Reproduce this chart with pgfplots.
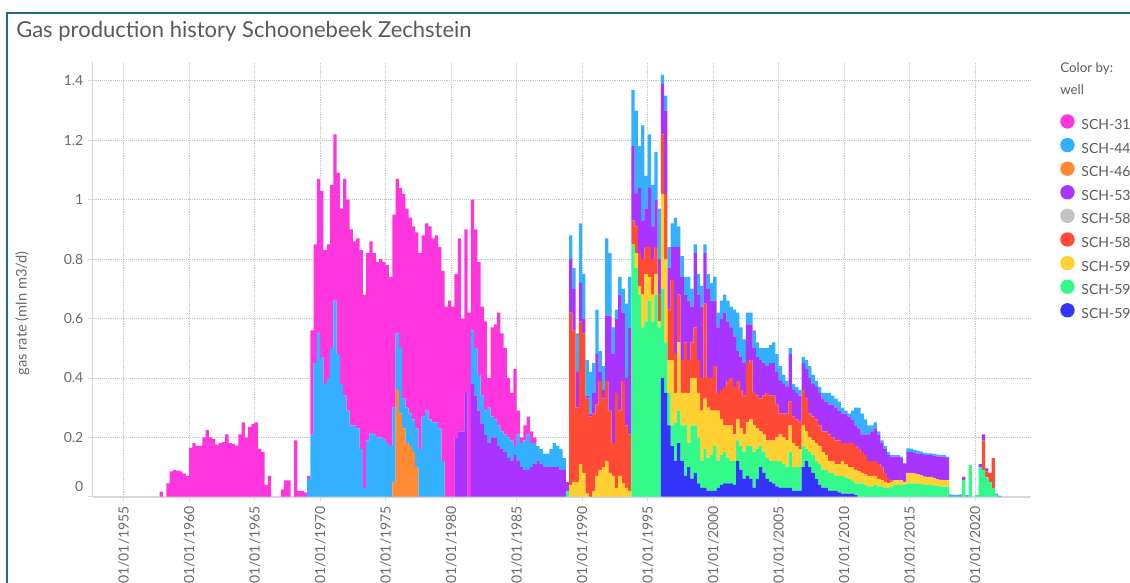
\documentclass[border=0pt]{standalone}
\usepackage{fontspec}
\setmainfont{Lato}
\usepackage{pgfplots}
\usepackage{pgfplotstable}
\pgfplotsset{compat=1.18}
\definecolor{c313}{HTML}{FF35DE}
\definecolor{c447}{HTML}{33B0FF}
\definecolor{c463}{HTML}{FF8A33}
\definecolor{c537}{HTML}{A933FF}
\definecolor{c580}{HTML}{C2C2C2}
\definecolor{c589}{HTML}{FF4B36}
\definecolor{c591}{HTML}{FFD133}
\definecolor{c592}{HTML}{33FA8A}
\definecolor{c597}{HTML}{3434FA}
\definecolor{axisgray}{HTML}{D6D6DE}
\definecolor{gridgray}{HTML}{C4C4C4}
\definecolor{tickgray}{HTML}{6A6A6A}
\definecolor{titlegray}{HTML}{5A5A5A}
\definecolor{framecol}{HTML}{26698C}
\pgfplotsset{dotleg/.style={legend image code/.code={\fill[#1] (0.18cm,0.3em) circle (5.4pt); \path (13.6pt,0.3em);}}}

% t = start of quarter; columns: SCH-597 592 591 589 580 537 463 447 313
\pgfplotstableread{
t a597 a592 a591 a589 a580 a537 a463 a447 a313
1957.75 0 0 0 0 0 0 0 0 0.017
1958.25 0 0 0 0 0 0 0 0 0.045
1958.50 0 0 0 0 0 0 0 0 0.085
1958.75 0 0 0 0 0 0 0 0 0.090
1959.00 0 0 0 0 0 0 0 0 0.088
1959.25 0 0 0 0 0 0 0 0 0.085
1959.50 0 0 0 0 0 0 0 0 0.078
1959.75 0 0 0 0 0 0 0 0 0.070
1960.00 0 0 0 0 0 0 0 0 0.165
1960.25 0 0 0 0 0 0 0 0 0.180
1960.50 0 0 0 0 0 0 0 0 0.170
1960.75 0 0 0 0 0 0 0 0 0.172
1961.00 0 0 0 0 0 0 0 0 0.200
1961.25 0 0 0 0 0 0 0 0 0.225
1961.50 0 0 0 0 0 0 0 0 0.200
1961.75 0 0 0 0 0 0 0 0 0.195
1962.00 0 0 0 0 0 0 0 0 0.175
1962.25 0 0 0 0 0 0 0 0 0.180
1962.50 0 0 0 0 0 0 0 0 0.185
1962.75 0 0 0 0 0 0 0 0 0.210
1963.00 0 0 0 0 0 0 0 0 0.180
1963.25 0 0 0 0 0 0 0 0 0.178
1963.50 0 0 0 0 0 0 0 0 0.172
1963.75 0 0 0 0 0 0 0 0 0.210
1964.00 0 0 0 0 0 0 0 0 0.250
1964.25 0 0 0 0 0 0 0 0 0.200
1964.50 0 0 0 0 0 0 0 0 0.235
1964.75 0 0 0 0 0 0 0 0 0.245
1965.00 0 0 0 0 0 0 0 0 0.250
1965.25 0 0 0 0 0 0 0 0 0.160
1965.50 0 0 0 0 0 0 0 0 0.150
1965.75 0 0 0 0 0 0 0 0 0.040
1966.00 0 0 0 0 0 0 0 0 0.070
1967.00 0 0 0 0 0 0 0 0 0.025
1967.25 0 0 0 0 0 0 0 0 0.055
1967.50 0 0 0 0 0 0 0 0 0.055
1968.00 0 0 0 0 0 0 0 0 0.190
1968.25 0 0 0 0 0 0 0 0 0.020
1968.50 0 0 0 0 0 0 0 0 0.020
1968.75 0 0 0 0 0 0 0 0 0.015
1969.00 0 0 0 0 0 0 0 0.06 0.01
1969.25 0 0 0 0 0 0 0 0.21 0.35
1969.50 0 0 0 0 0 0 0 0.45 0.40
1969.75 0 0 0 0 0 0 0 0.55 0.52
1970.00 0 0 0 0 0 0 0 0.47 0.56
1970.25 0 0 0 0 0 0 0 0.38 0.45
1970.50 0 0 0 0 0 0 0 0.40 0.45
1970.75 0 0 0 0 0 0 0 0.50 0.55
1971.00 0 0 0 0 0 0 0 0.66 0.56
1971.25 0 0 0 0 0 0 0 0.48 0.61
1971.50 0 0 0 0 0 0 0 0.38 0.59
1971.75 0 0 0 0 0 0 0 0.34 0.73
1972.00 0 0 0 0 0 0 0 0.29 0.71
1972.25 0 0 0 0 0 0 0 0.24 0.66
1972.50 0 0 0 0 0 0 0 0.24 0.62
1972.75 0 0 0 0 0 0 0 0.23 0.64
1973.00 0 0 0 0 0 0 0 0.16 0.67
1973.25 0 0 0 0 0 0 0 0.03 0.65
1973.50 0 0 0 0 0 0 0 0.19 0.63
1973.75 0 0 0 0 0 0 0 0.215 0.645
1974.00 0 0 0 0 0 0 0 0.21 0.61
1974.25 0 0 0 0 0 0 0 0.20 0.59
1974.50 0 0 0 0 0 0 0 0.20 0.60
1974.75 0 0 0 0 0 0 0 0.195 0.595
1975.00 0 0 0 0 0 0 0 0.18 0.60
1975.25 0 0 0 0 0 0 0 0.17 0.57
1975.50 0 0 0 0 0 0 0.05 0.25 0.65
1975.75 0 0 0 0 0 0 0.36 0.19 0.52
1976.00 0 0 0 0 0 0 0.28 0.22 0.54
1976.25 0 0 0 0 0 0 0.23 0.10 0.69
1976.50 0 0 0 0 0 0 0.18 0.12 0.67
1976.75 0 0 0 0 0 0 0.17 0.11 0.66
1977.00 0 0 0 0 0 0 0.15 0.11 0.65
1977.25 0 0 0 0 0 0 0.10 0.13 0.66
1977.50 0 0 0 0 0 0 0 0.16 0.66
1977.75 0 0 0 0 0 0 0 0.27 0.61
1978.00 0 0 0 0 0 0 0 0.29 0.63
1978.25 0 0 0 0 0 0 0 0.26 0.65
1978.50 0 0 0 0 0 0 0 0.25 0.62
1978.75 0 0 0 0 0 0 0 0.25 0.63
1979.00 0 0 0 0 0 0 0 0.23 0.61
1979.25 0 0 0 0 0 0 0 0.12 0.64
1979.50 0 0 0 0 0 0 0 0 0.64
1979.75 0 0 0 0 0 0 0 0 0.66
1980.00 0 0 0 0 0 0 0 0 0.64
1980.25 0 0 0 0 0 0.20 0 0 0.55
1980.50 0 0 0 0 0 0.22 0 0 0.65
1980.75 0 0 0 0 0 0.22 0 0 0.38
1981.00 0 0 0 0 0 0.35 0 0 0.55
1981.25 0 0 0 0 0 0 0 0 0.62
1981.50 0 0 0 0 0 0.38 0 0.18 0.44
1981.75 0 0 0 0 0 0.34 0 0.16 0.40
1982.00 0 0 0 0 0 0.29 0 0.12 0.38
1982.25 0 0 0 0 0 0.245 0 0.095 0.30
1982.50 0 0 0 0 0 0.21 0 0.08 0.30
1982.75 0 0 0 0 0 0.18 0 0.12 0.10
1983.00 0 0 0 0 0 0.20 0 0.07 0.30
1983.25 0 0 0 0 0 0.20 0 0.06 0.32
1983.50 0 0 0 0 0 0.17 0 0.07 0.38
1983.75 0 0 0 0 0 0.16 0 0.06 0.33
1984.00 0 0 0 0 0 0.15 0 0.06 0.29
1984.25 0 0 0 0 0 0.13 0 0.07 0.20
1984.50 0 0 0 0 0 0.12 0 0.07 0.16
1984.75 0 0 0 0 0 0.14 0 0.03 0.26
1985.00 0 0 0 0 0 0.12 0 0.09 0.08
1985.25 0 0 0 0 0 0.10 0 0.08 0.02
1985.50 0 0 0 0 0 0.09 0 0.10 0.05
1985.75 0 0 0 0 0 0.09 0 0.12 0.06
1986.00 0 0 0 0 0 0.10 0 0.08 0.04
1986.25 0 0 0 0 0 0.11 0 0.07 0.02
1986.50 0 0 0 0 0 0.12 0 0.05 0
1986.75 0 0 0 0 0 0.11 0 0.05 0
1987.00 0 0 0 0 0 0.10 0 0.045 0
1987.25 0 0 0 0 0 0.10 0 0.045 0
1987.50 0 0 0 0 0 0.10 0 0.06 0
1987.75 0 0 0 0 0 0.10 0 0.08 0
1988.00 0 0 0 0 0 0.10 0 0.07 0
1988.25 0 0 0 0 0 0.09 0 0.07 0
1988.50 0 0 0 0 0 0.09 0 0.04 0
1988.75 0 0.02 0 0 0 0.03 0 0 0
1989.00 0 0 0.04 0.58 0 0.18 0 0.08 0
1989.25 0 0 0.05 0.51 0 0.14 0 0.07 0
1989.50 0 0 0.05 0.25 0 0.12 0 0.13 0
1989.75 0 0 0.11 0.48 0 0.13 0 0.20 0
1990.00 0 0 0.08 0.47 0 0.05 0 0.15 0
1990.25 0 0 0.01 0.32 0 0.01 0 0.12 0
1990.50 0 0 0 0.27 0 0.01 0 0.14 0
1990.75 0 0 0.02 0.26 0 0.07 0 0.10 0
1991.00 0 0 0.07 0.24 0 0.17 0 0.15 0
1991.25 0 0 0.09 0.30 0 0.03 0 0.07 0
1991.50 0 0 0.10 0.23 0 0.03 0 0.08 0
1991.75 0 0 0.12 0.27 0 0.22 0 0.26 0
1992.00 0 0 0.08 0.21 0 0.32 0 0.21 0
1992.25 0 0 0.07 0.11 0 0.30 0 0.09 0
1992.50 0 0 0.03 0.32 0 0.25 0 0.03 0
1992.75 0 0 0.07 0.22 0 0.39 0 0.06 0
1993.00 0 0 0.045 0.345 0 0.23 0 0.08 0
1993.25 0 0 0.03 0.21 0 0.16 0 0.25 0
1993.50 0 0 0.02 0.19 0 0.36 0 0.17 0
1993.75 0 0.85 0 0.08 0 0.25 0 0.19 0
1994.00 0 0.77 0.05 0.09 0 0.11 0 0.28 0
1994.25 0 0.68 0.03 0.11 0 0.22 0 0.14 0
1994.50 0 0.57 0.11 0.12 0 0.13 0 0.32 0
1994.75 0 0.59 0.16 0.09 0 0.13 0 0.11 0
1995.00 0 0.66 0.08 0.10 0 0.20 0 0.18 0
1995.25 0 0.59 0.09 0.12 0 0.11 0 0.14 0
1995.50 0 0.68 0.07 0.09 0 0.16 0 0.16 0
1995.75 0 0.57 0.02 0.09 0 0.12 0 0.17 0
1996.00 0.40 0.30 0.32 0.20 0 0.17 0 0.03 0
1996.25 0.35 0.17 0.28 0.22 0 0.28 0 0.05 0
1996.50 0.24 0.11 0.11 0.17 0 0.14 0 0.07 0
1996.75 0.17 0.07 0.22 0.27 0 0.11 0 0.08 0
1997.00 0.12 0.13 0.10 0.13 0 0.36 0 0.10 0
1997.25 0.18 0.11 0.23 0.16 0 0.16 0 0.07 0
1997.50 0.12 0.12 0.11 0.11 0 0.28 0 0.07 0
1997.75 0.07 0.17 0.11 0.17 0 0.16 0 0.06 0
1998.00 0.10 0.08 0.17 0.11 0 0.20 0 0.08 0
1998.25 0.06 0.18 0.16 0.12 0 0.12 0 0.06 0
1998.50 0.08 0.16 0.16 0.17 0 0.25 0 0.03 0
1998.75 0.045 0.155 0.15 0.11 0 0.22 0 0.07 0
1999.00 0.03 0.09 0.17 0.11 0 0.24 0 0.07 0
1999.25 0.03 0.13 0.17 0.32 0 0.17 0 0.03 0
1999.50 0.02 0.11 0.17 0.10 0 0.30 0 0.05 0
1999.75 0.02 0.12 0.15 0.11 0 0.26 0 0.06 0
2000.00 0.02 0.15 0.12 0.15 0 0.22 0 0.08 0
2000.25 0.03 0.09 0.17 0.06 0 0.22 0 0.05 0
2000.50 0.04 0.10 0.12 0.10 0 0.24 0 0.06 0
2000.75 0.045 0.105 0.09 0.13 0 0.25 0 0.06 0
2001.00 0.045 0.085 0.11 0.15 0 0.20 0 0.07 0
2001.25 0.045 0.075 0.12 0.16 0 0.17 0 0.07 0
2001.50 0.04 0.08 0.09 0.16 0 0.17 0 0.09 0
2001.75 0.12 0.07 0.07 0.13 0 0.10 0 0.13 0
2002.00 0.09 0.08 0.06 0.13 0 0.11 0 0.10 0
2002.25 0.06 0.09 0.06 0.13 0 0.11 0 0.08 0
2002.50 0.07 0.10 0.08 0.20 0 0.13 0 0.04 0
2002.75 0.06 0.11 0.09 0.20 0 0.12 0 0.04 0
2003.00 0.03 0.12 0.09 0.11 0 0.15 0 0.06 0
2003.25 0.06 0.10 0.07 0.11 0 0.13 0 0.05 0
2003.50 0.10 0.07 0.05 0.11 0 0.13 0 0.04 0
2003.75 0.08 0.07 0.06 0.13 0 0.11 0 0.05 0
2004.00 0.06 0.07 0.06 0.16 0 0.09 0 0.06 0
2004.25 0.05 0.07 0.07 0.15 0 0.11 0 0.06 0
2004.50 0.045 0.075 0.07 0.15 0 0.11 0 0.07 0
2004.75 0.035 0.085 0.08 0.11 0 0.11 0 0.06 0
2005.00 0.03 0.09 0.09 0.07 0 0.11 0 0.05 0
2005.25 0.03 0.08 0.09 0.08 0 0.10 0 0.03 0
2005.50 0.03 0.07 0.09 0.09 0 0.09 0 0.02 0
2005.75 0.03 0.12 0.09 0.08 0 0.16 0 0.02 0
2006.00 0.02 0.08 0.08 0.09 0 0.09 0 0.02 0
2006.25 0.02 0.08 0.07 0.09 0 0.09 0 0.02 0
2006.50 0.02 0.08 0.06 0.09 0 0.09 0 0.02 0
2006.75 0.10 0.07 0.07 0.12 0 0.09 0 0.02 0
2007.00 0.12 0.04 0.06 0.11 0 0.10 0 0.03 0
2007.25 0.10 0.05 0.05 0.08 0 0.12 0 0.04 0
2007.50 0.08 0.06 0.05 0.08 0 0.11 0 0.03 0
2007.75 0.06 0.06 0.06 0.08 0 0.11 0 0.02 0
2008.00 0.04 0.07 0.06 0.07 0 0.11 0 0.02 0
2008.25 0.03 0.06 0.06 0.07 0 0.11 0 0.02 0
2008.50 0.03 0.06 0.05 0.08 0 0.10 0 0.03 0
2008.75 0.02 0.06 0.04 0.09 0 0.10 0 0.04 0
2009.00 0.02 0.06 0.04 0.08 0 0.11 0 0.03 0
2009.25 0.02 0.05 0.04 0.08 0 0.11 0 0.03 0
2009.50 0.015 0.055 0.04 0.08 0 0.10 0 0.03 0
2009.75 0.01 0.06 0.05 0.06 0 0.10 0 0.02 0
2010.00 0.01 0.055 0.045 0.07 0 0.10 0 0.01 0
2010.25 0.01 0.05 0.04 0.08 0 0.09 0 0.01 0
2010.50 0.01 0.045 0.045 0.08 0 0.08 0 0.03 0
2010.75 0.005 0.04 0.045 0.08 0 0.07 0 0.06 0
2011.00 0 0.045 0.04 0.075 0 0.07 0 0.07 0
2011.25 0 0.045 0.035 0.07 0 0.06 0 0.07 0
2011.50 0 0.04 0.035 0.065 0 0.07 0 0.05 0
2011.75 0 0.035 0.035 0.05 0 0.09 0 0.03 0
2012.00 0 0.035 0.035 0.05 0 0.10 0 0.02 0
2012.25 0 0.04 0.03 0.05 0 0.11 0 0.02 0
2012.50 0 0.035 0.025 0.05 0 0.10 0 0.01 0
2012.75 0 0.035 0.021 0.044 0 0.08 0 0.01 0
2013.00 0 0.03 0.02 0.03 0 0.08 0 0.01 0
2013.25 0 0.03 0.015 0.015 0 0.08 0 0.01 0
2013.50 0 0.035 0.015 0.005 0 0.08 0 0.005 0
2013.75 0 0.04 0.015 0 0 0.08 0 0.005 0
2014.00 0 0.04 0.016 0 0 0.08 0 0.004 0
2014.25 0 0.04 0.015 0 0 0.075 0 0.005 0
2014.50 0 0.04 0.01 0 0 0.06 0 0.003 0
2014.75 0 0.045 0.035 0 0 0.07 0 0.013 0
2015.00 0 0.045 0.035 0 0 0.07 0 0.012 0
2015.25 0 0.045 0.033 0 0 0.07 0 0.010 0
2015.50 0 0.043 0.032 0 0 0.07 0 0.010 0
2015.75 0 0.042 0.030 0 0 0.072 0 0.008 0
2016.00 0 0.040 0.028 0 0 0.073 0 0.007 0
2016.25 0 0.040 0.027 0 0 0.073 0 0.006 0
2016.50 0 0.040 0.027 0 0 0.073 0 0.006 0
2016.75 0 0.038 0.025 0 0 0.075 0 0.006 0
2017.00 0 0.036 0.022 0 0 0.078 0 0.006 0
2017.25 0 0.035 0.022 0 0 0.078 0 0.005 0
2017.50 0 0.034 0.022 0 0 0.079 0 0.005 0
2017.75 0 0.034 0.022 0 0 0.074 0 0.005 0
2018.00 0 0 0 0 0 0 0 0.008 0
2018.25 0 0 0 0 0 0 0 0.006 0
2018.50 0 0 0 0 0 0 0 0.006 0
2018.75 0 0 0 0 0 0 0 0.008 0
2019.00 0 0.056 0 0 0 0.011 0 0 0
2019.25 0 0 0 0 0 0 0 0.005 0
2019.50 0 0.107 0 0 0 0 0 0 0
2020.00 0 0.005 0 0 0 0 0 0 0
2020.25 0 0.10 0 0 0 0.01 0 0 0
2020.50 0 0.09 0 0.10 0 0.02 0 0 0
2020.75 0 0.065 0 0.02 0 0.01 0 0 0
2021.00 0 0.05 0 0.03 0 0 0 0 0
2021.25 0 0.03 0 0.10 0 0 0 0 0
2021.50 0 0.005 0 0 0 0 0 0.005 0
2021.75 0 0 0 0 0 0 0 0.004 0
}\wells

\begin{document}
\begin{tikzpicture}
\useasboundingbox (0pt,0pt) rectangle (847.5pt,-436.5pt);
\draw[framecol, line width=1.5pt] (5.25pt,-445pt) -- (5.25pt,-9.75pt) -- (860pt,-9.75pt);
\node[anchor=base west, font=\fontsize{16.5}{19}\selectfont, text=titlegray, inner sep=0pt] at (12pt,-28pt) {Gas production history Schoonebeek Zechstein};
\node[rotate=90, font=\fontsize{11}{13}\selectfont, text=tickgray] at (16.7pt,-235pt) {gas rate (mln m3/d)};
\node[anchor=west, inner sep=0pt, font=\fontsize{10}{12}\selectfont, text=titlegray] at (795pt,-51.75pt) {Color by:};
\node[anchor=west, inner sep=0pt, font=\fontsize{10}{12}\selectfont, text=titlegray] at (795pt,-67.5pt) {well};
\begin{axis}[
  at={(69.525pt,-372.525pt)}, anchor=south west,
  scale only axis, width=702.975pt, height=326.025pt,
  xmin=1952.634, xmax=2024.18, ymin=0, ymax=1.4636,
  ybar stacked, bar width=0.25,
  axis lines*=left,
  x axis line style={draw=axisgray, line width=1.5pt},
  y axis line style={draw=axisgray, line width=0.75pt},
  xtick={1955,1960,1965,1970,1975,1980,1985,1990,1995,2000,2005,2010,2015,2020},
  xticklabels={01/01/1955,01/01/1960,01/01/1965,01/01/1970,01/01/1975,01/01/1980,01/01/1985,01/01/1990,01/01/1995,01/01/2000,01/01/2005,01/01/2010,01/01/2015,01/01/2020},
  ytick={0,0.2,0.4,0.6,0.8,1,1.2,1.4},
  yticklabels={\raisebox{15pt}{0},0.2,0.4,0.6,0.8,1,1.2,1.4},
  grid=major, grid style={densely dotted, draw=gridgray, line width=0.6pt},
  tick style={draw=axisgray, line width=0.6pt}, major tick length=3.5pt, tick align=outside,
  xticklabel style={rotate=90, anchor=east, font=\fontsize{10.5}{12}\selectfont, text=tickgray},
  yticklabel style={font=\fontsize{10.5}{12}\selectfont, text=tickgray},
  reverse legend,
  legend cell align=left,
  legend style={at={(axis description cs:1.032,0.8804)}, anchor=north west, draw=none, fill=none,
    font=\fontsize{10.5}{12}\selectfont, text=titlegray, row sep=2.75pt, inner sep=0pt},
]
\addplot[fill=c597, draw=none, dotleg=c597] table[x expr=\thisrow{t}+0.125, y=a597]{\wells};
\addlegendentry{SCH-597}
\addplot[fill=c592, draw=none, dotleg=c592] table[x expr=\thisrow{t}+0.125, y=a592]{\wells};
\addlegendentry{SCH-592}
\addplot[fill=c591, draw=none, dotleg=c591] table[x expr=\thisrow{t}+0.125, y=a591]{\wells};
\addlegendentry{SCH-591}
\addplot[fill=c589, draw=none, dotleg=c589] table[x expr=\thisrow{t}+0.125, y=a589]{\wells};
\addlegendentry{SCH-589}
\addplot[fill=c580, draw=none, dotleg=c580] table[x expr=\thisrow{t}+0.125, y=a580]{\wells};
\addlegendentry{SCH-580}
\addplot[fill=c537, draw=none, dotleg=c537] table[x expr=\thisrow{t}+0.125, y=a537]{\wells};
\addlegendentry{SCH-537}
\addplot[fill=c463, draw=none, dotleg=c463] table[x expr=\thisrow{t}+0.125, y=a463]{\wells};
\addlegendentry{SCH-463}
\addplot[fill=c447, draw=none, dotleg=c447] table[x expr=\thisrow{t}+0.125, y=a447]{\wells};
\addlegendentry{SCH-447}
\addplot[fill=c313, draw=none, dotleg=c313] table[x expr=\thisrow{t}+0.125, y=a313]{\wells};
\addlegendentry{SCH-313}
\end{axis}
\end{tikzpicture}
\end{document}
